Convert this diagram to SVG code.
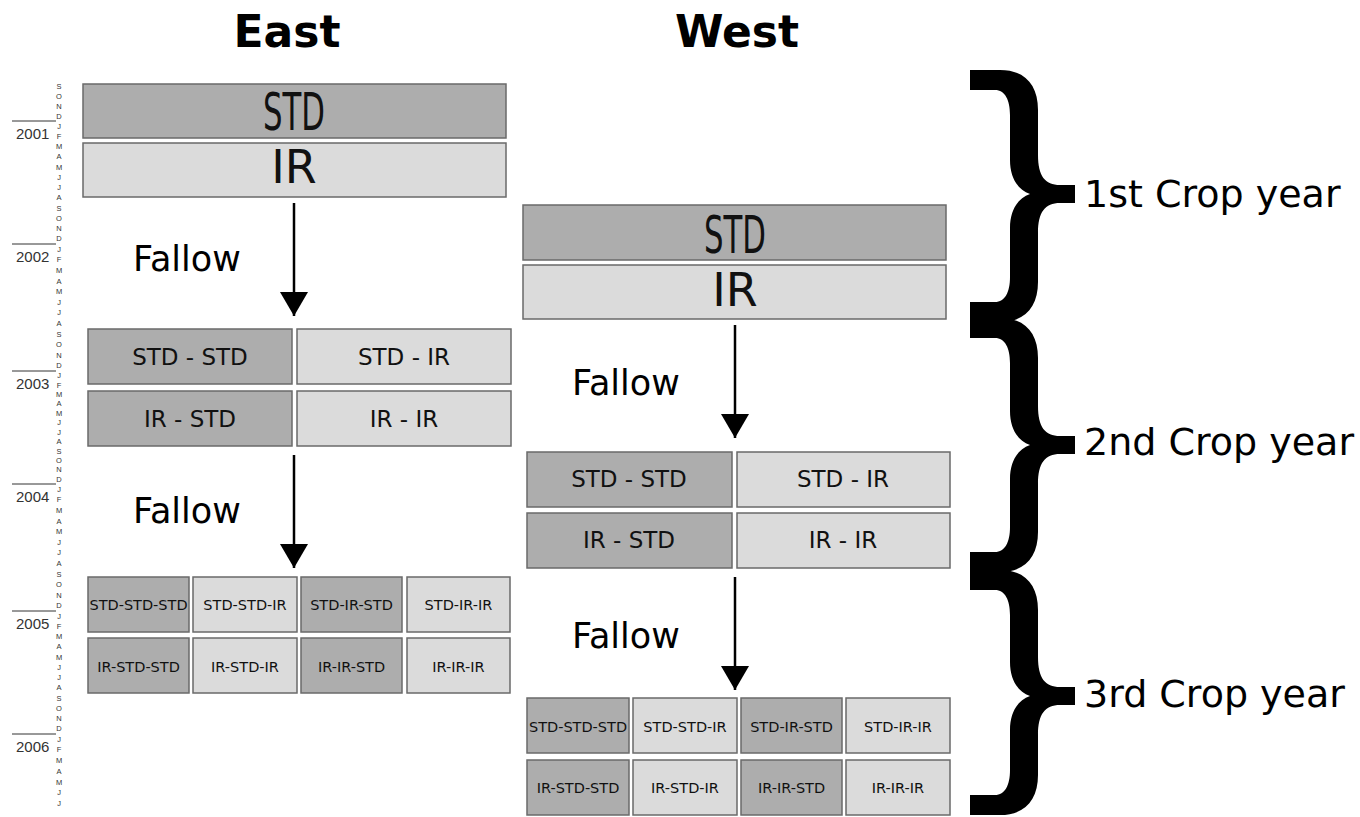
<svg xmlns="http://www.w3.org/2000/svg" width="1360" height="817" viewBox="0 0 1360 817">
<defs>
<style>
.bg{fill:#ffffff}
.dk{fill:#adadad;stroke:#6a6a6a;stroke-width:1.5}
.lt{fill:#dbdbdb;stroke:#6a6a6a;stroke-width:1.5}
.t{font-family:"DejaVu Sans",sans-serif;fill:#111;text-anchor:middle}
.big{font-size:52px}
.ir{font-size:46px}
.m{font-size:23px}
.s{font-size:14.5px}
.title{font-family:"DejaVu Sans",sans-serif;font-weight:bold;font-size:44px;text-anchor:middle;fill:#000}
.fal{font-family:"DejaVu Sans",sans-serif;font-size:35px;fill:#000}
.crop{font-family:"DejaVu Sans",sans-serif;font-size:38px;fill:#000}
.yr{font-family:"Liberation Sans",Arial,sans-serif;font-size:15px;fill:#333}
.mo{font-family:"Liberation Sans",Arial,sans-serif;font-size:7.5px;fill:#333;text-anchor:middle}
.yl{stroke:#333;stroke-width:1}
.arr{stroke:#000;stroke-width:2.5;fill:none}
.brace{fill:#000}
</style>
<marker id="ah" viewBox="0 0 24 28" refX="24" refY="14" markerWidth="24" markerHeight="28" markerUnits="userSpaceOnUse" orient="auto">
<path d="M0,0 L24,14 L0,28 Z" fill="#000"/>
</marker>
</defs>
<rect class="bg" x="0" y="0" width="1360" height="817"/>

<g id="titles">
<text class="title" x="287" y="47">East</text>
<text class="title" x="737" y="47">West</text>
</g>

<g id="timeline">
<line class="yl" x1="12" y1="121" x2="56" y2="121"/>
<line class="yl" x1="12" y1="244" x2="56" y2="244"/>
<line class="yl" x1="12" y1="371" x2="56" y2="371"/>
<line class="yl" x1="12" y1="484" x2="56" y2="484"/>
<line class="yl" x1="12" y1="611" x2="56" y2="611"/>
<line class="yl" x1="12" y1="734" x2="56" y2="734"/>
<text class="yr" x="16" y="139">2001</text>
<text class="yr" x="16" y="262">2002</text>
<text class="yr" x="16" y="389">2003</text>
<text class="yr" x="16" y="502">2004</text>
<text class="yr" x="16" y="629">2005</text>
<text class="yr" x="16" y="752">2006</text>
<text class="mo" x="59" y="88.5">S</text>
<text class="mo" x="59" y="98.5">O</text>
<text class="mo" x="59" y="108.5">N</text>
<text class="mo" x="59" y="118.5">D</text>
<text class="mo" x="59" y="128.6">J</text>
<text class="mo" x="59" y="138.9">F</text>
<text class="mo" x="59" y="149.1">M</text>
<text class="mo" x="59" y="159.4">A</text>
<text class="mo" x="59" y="169.6">M</text>
<text class="mo" x="59" y="179.9">J</text>
<text class="mo" x="59" y="190.1">J</text>
<text class="mo" x="59" y="200.4">A</text>
<text class="mo" x="59" y="210.6">S</text>
<text class="mo" x="59" y="220.9">O</text>
<text class="mo" x="59" y="231.1">N</text>
<text class="mo" x="59" y="241.4">D</text>
<text class="mo" x="59" y="251.8">J</text>
<text class="mo" x="59" y="262.4">F</text>
<text class="mo" x="59" y="273.0">M</text>
<text class="mo" x="59" y="283.5">A</text>
<text class="mo" x="59" y="294.1">M</text>
<text class="mo" x="59" y="304.7">J</text>
<text class="mo" x="59" y="315.3">J</text>
<text class="mo" x="59" y="325.9">A</text>
<text class="mo" x="59" y="336.5">S</text>
<text class="mo" x="59" y="347.0">O</text>
<text class="mo" x="59" y="357.6">N</text>
<text class="mo" x="59" y="368.2">D</text>
<text class="mo" x="59" y="378.2">J</text>
<text class="mo" x="59" y="387.6">F</text>
<text class="mo" x="59" y="397.0">M</text>
<text class="mo" x="59" y="406.4">A</text>
<text class="mo" x="59" y="415.8">M</text>
<text class="mo" x="59" y="425.3">J</text>
<text class="mo" x="59" y="434.7">J</text>
<text class="mo" x="59" y="444.1">A</text>
<text class="mo" x="59" y="453.5">S</text>
<text class="mo" x="59" y="462.9">O</text>
<text class="mo" x="59" y="472.4">N</text>
<text class="mo" x="59" y="481.8">D</text>
<text class="mo" x="59" y="491.8">J</text>
<text class="mo" x="59" y="502.4">F</text>
<text class="mo" x="59" y="513.0">M</text>
<text class="mo" x="59" y="523.5">A</text>
<text class="mo" x="59" y="534.1">M</text>
<text class="mo" x="59" y="544.7">J</text>
<text class="mo" x="59" y="555.3">J</text>
<text class="mo" x="59" y="565.9">A</text>
<text class="mo" x="59" y="576.5">S</text>
<text class="mo" x="59" y="587.0">O</text>
<text class="mo" x="59" y="597.6">N</text>
<text class="mo" x="59" y="608.2">D</text>
<text class="mo" x="59" y="618.6">J</text>
<text class="mo" x="59" y="628.9">F</text>
<text class="mo" x="59" y="639.1">M</text>
<text class="mo" x="59" y="649.4">A</text>
<text class="mo" x="59" y="659.6">M</text>
<text class="mo" x="59" y="669.9">J</text>
<text class="mo" x="59" y="680.1">J</text>
<text class="mo" x="59" y="690.4">A</text>
<text class="mo" x="59" y="700.6">S</text>
<text class="mo" x="59" y="710.9">O</text>
<text class="mo" x="59" y="721.1">N</text>
<text class="mo" x="59" y="731.4">D</text>
<text class="mo" x="59" y="741.6">J</text>
<text class="mo" x="59" y="752.4">F</text>
<text class="mo" x="59" y="763.1">M</text>
<text class="mo" x="59" y="773.9">A</text>
<text class="mo" x="59" y="784.6">M</text>
<text class="mo" x="59" y="795.4">J</text>
<text class="mo" x="59" y="806.1">J</text>
</g>

<g id="east-y1-std"><rect class="dk" x="83" y="84" width="423" height="54"/><text class="t big" x="294" y="130" textLength="62" lengthAdjust="spacingAndGlyphs">STD</text></g>
<g id="east-y1-ir"><rect class="lt" x="83" y="143" width="423" height="54"/><text class="t ir" x="294" y="183">IR</text></g>

<g id="west-y1-std"><rect class="dk" x="523" y="205" width="423" height="55"/><text class="t big" x="735" y="253" textLength="62" lengthAdjust="spacingAndGlyphs">STD</text></g>
<g id="west-y1-ir"><rect class="lt" x="523" y="265" width="423" height="54"/><text class="t ir" x="735" y="306">IR</text></g>

<g id="east-fallow-labels">
<text class="fal" x="133" y="271">Fallow</text>
<text class="fal" x="133" y="523">Fallow</text>
</g>
<g id="west-fallow-labels">
<text class="fal" x="572" y="395">Fallow</text>
<text class="fal" x="572" y="648">Fallow</text>
</g>

<g id="east-y2-std-std"><rect class="dk" x="88" y="329" width="204" height="55"/><text class="t m" x="190" y="365">STD - STD</text></g>
<g id="east-y2-std-ir"><rect class="lt" x="297" y="329" width="214" height="55"/><text class="t m" x="404" y="365">STD - IR</text></g>
<g id="east-y2-ir-std"><rect class="dk" x="88" y="391" width="204" height="55"/><text class="t m" x="190" y="427">IR - STD</text></g>
<g id="east-y2-ir-ir"><rect class="lt" x="297" y="391" width="214" height="55"/><text class="t m" x="404" y="427">IR - IR</text></g>

<g id="west-y2-std-std"><rect class="dk" x="527" y="452" width="205" height="55"/><text class="t m" x="629" y="487">STD - STD</text></g>
<g id="west-y2-std-ir"><rect class="lt" x="737" y="452" width="213" height="55"/><text class="t m" x="843" y="487">STD - IR</text></g>
<g id="west-y2-ir-std"><rect class="dk" x="527" y="513" width="205" height="55"/><text class="t m" x="629" y="548">IR - STD</text></g>
<g id="west-y2-ir-ir"><rect class="lt" x="737" y="513" width="213" height="55"/><text class="t m" x="843" y="548">IR - IR</text></g>

<g id="east-y3-std-std-std"><rect class="dk" x="88" y="577" width="101" height="55"/><text class="t s" x="138.5" y="610">STD-STD-STD</text></g>
<g id="east-y3-std-std-ir"><rect class="lt" x="193" y="577" width="104" height="55"/><text class="t s" x="245" y="610">STD-STD-IR</text></g>
<g id="east-y3-std-ir-std"><rect class="dk" x="301" y="577" width="101" height="55"/><text class="t s" x="351.5" y="610">STD-IR-STD</text></g>
<g id="east-y3-std-ir-ir"><rect class="lt" x="407" y="577" width="103" height="55"/><text class="t s" x="458.5" y="610">STD-IR-IR</text></g>
<g id="east-y3-ir-std-std"><rect class="dk" x="88" y="638" width="101" height="55"/><text class="t s" x="138.5" y="672">IR-STD-STD</text></g>
<g id="east-y3-ir-std-ir"><rect class="lt" x="193" y="638" width="104" height="55"/><text class="t s" x="245" y="672">IR-STD-IR</text></g>
<g id="east-y3-ir-ir-std"><rect class="dk" x="301" y="638" width="101" height="55"/><text class="t s" x="351.5" y="672">IR-IR-STD</text></g>
<g id="east-y3-ir-ir-ir"><rect class="lt" x="407" y="638" width="103" height="55"/><text class="t s" x="458.5" y="672">IR-IR-IR</text></g>

<g id="west-y3-std-std-std"><rect class="dk" x="527" y="698" width="102" height="55"/><text class="t s" x="578" y="732">STD-STD-STD</text></g>
<g id="west-y3-std-std-ir"><rect class="lt" x="633" y="698" width="104" height="55"/><text class="t s" x="685" y="732">STD-STD-IR</text></g>
<g id="west-y3-std-ir-std"><rect class="dk" x="741" y="698" width="101" height="55"/><text class="t s" x="791.5" y="732">STD-IR-STD</text></g>
<g id="west-y3-std-ir-ir"><rect class="lt" x="846" y="698" width="104" height="55"/><text class="t s" x="898" y="732">STD-IR-IR</text></g>
<g id="west-y3-ir-std-std"><rect class="dk" x="527" y="760" width="102" height="55"/><text class="t s" x="578" y="793">IR-STD-STD</text></g>
<g id="west-y3-ir-std-ir"><rect class="lt" x="633" y="760" width="104" height="55"/><text class="t s" x="685" y="793">IR-STD-IR</text></g>
<g id="west-y3-ir-ir-std"><rect class="dk" x="741" y="760" width="101" height="55"/><text class="t s" x="791.5" y="793">IR-IR-STD</text></g>
<g id="west-y3-ir-ir-ir"><rect class="lt" x="846" y="760" width="104" height="55"/><text class="t s" x="898" y="793">IR-IR-IR</text></g>

<g id="connectors">
<line class="arr" x1="294" y1="203" x2="294" y2="316" marker-end="url(#ah)"/>
<line class="arr" x1="294" y1="455" x2="294" y2="568" marker-end="url(#ah)"/>
<line class="arr" x1="735" y1="325" x2="735" y2="438" marker-end="url(#ah)"/>
<line class="arr" x1="735" y1="577" x2="735" y2="690" marker-end="url(#ah)"/>
</g>

<g id="brace-1">
<path class="brace" d="M970,70 L1000,70 C1025,70 1038,85 1038,110 L1038,155 C1038,176 1045,185 1060,185 L1075,185 L1075,203 L1060,203 C1045,203 1038,212 1038,233 L1038,282 C1038,307 1025,322 1000,322 L970,322 L970,302 L995,302 C1005,302 1010,292 1010,277 L1010,228 C1010,210 1018,198 1030,194 C1018,190 1010,178 1010,160 L1010,115 C1010,100 1005,90 995,90 L970,90 Z"/>
<text class="crop" x="1084" y="207">1st Crop year</text>
</g>
<g id="brace-2">
<path class="brace" d="M970,318 L1000,318 C1025,318 1038,333 1038,358 L1038,406 C1038,427 1045,436 1060,436 L1075,436 L1075,454 L1060,454 C1045,454 1038,463 1038,484 L1038,532 C1038,557 1025,572 1000,572 L970,572 L970,552 L995,552 C1005,552 1010,542 1010,527 L1010,479 C1010,461 1018,449 1030,445 C1018,441 1010,429 1010,411 L1010,363 C1010,348 1005,338 995,338 L970,338 Z"/>
<text class="crop" x="1084" y="455">2nd Crop year</text>
</g>
<g id="brace-3">
<path class="brace" d="M970,570 L1000,570 C1025,570 1038,585 1038,610 L1038,657 C1038,678 1045,687 1060,687 L1075,687 L1075,705 L1060,705 C1045,705 1038,714 1038,735 L1038,775 C1038,800 1025,815 1000,815 L970,815 L970,795 L995,795 C1005,795 1010,785 1010,770 L1010,730 C1010,712 1018,700 1030,696 C1018,692 1010,680 1010,662 L1010,615 C1010,600 1005,590 995,590 L970,590 Z"/>
<text class="crop" x="1084" y="707">3rd Crop year</text>
</g>
</svg>
